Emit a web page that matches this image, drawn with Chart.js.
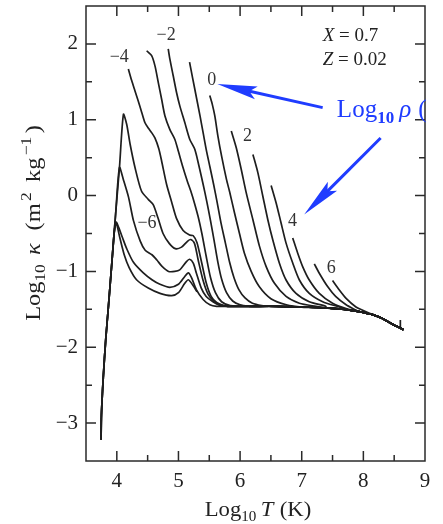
<!DOCTYPE html>
<html>
<head>
<meta charset="utf-8">
<script src="https://cdn.jsdelivr.net/npm/chart.js@4.4.0/dist/chart.umd.min.js"></script>
<style>
  html, body { margin: 0; padding: 0; background: #fff; }
</style>
</head>
<body>
<canvas id="chart" width="443" height="524"></canvas>
<script>
// Rosseland mean opacity, X = 0.7, Z = 0.02
// one pair of arrays per curve: log10 T and log10 kappa, curves labelled by log10 rho
const tM8 = [3.745, 3.75, 3.78, 3.82, 3.86, 3.92, 3.96, 3.99, 4.05, 4.12, 4.2, 4.32, 4.51, 4.70, 4.89, 5.0, 5.10, 5.16, 5.24, 5.30];
const kM8 = [-3.22, -2.9, -2.4, -1.9, -1.5, -0.88, -0.47, -0.36, -0.56, -0.78, -0.95, -1.11, -1.22, -1.29, -1.32, -1.28, -1.16, -1.11, -1.19, -1.27];

const tM7 = [3.745, 3.75, 3.78, 3.82, 3.86, 3.92, 3.96, 3.99, 4.03, 4.09, 4.16, 4.27, 4.43, 4.57, 4.70, 4.86, 5.0, 5.10, 5.16, 5.21, 5.29, 5.40, 5.51, 5.62];
const kM7 = [-3.22, -2.9, -2.4, -1.9, -1.5, -0.88, -0.47, -0.35, -0.42, -0.55, -0.70, -0.88, -1.02, -1.11, -1.17, -1.21, -1.17, -1.07, -1.02, -1.08, -1.24, -1.37, -1.44, -1.46];

const tM6 = [3.745, 3.75, 3.78, 3.82, 3.86, 3.92, 3.98, 4.043, 4.107, 4.19, 4.27, 4.38, 4.46, 4.57, 4.65, 4.73, 4.84, 4.94, 5.02, 5.13, 5.18, 5.24, 5.29, 5.37, 5.45, 5.56, 5.66];
const kM6 = [-3.22, -2.9, -2.4, -1.9, -1.5, -0.88, -0.25, 0.37, 0.21, -0.02, -0.33, -0.6, -0.72, -0.78, -0.85, -0.93, -1.0, -1.0, -0.98, -0.87, -0.84, -0.89, -1.02, -1.22, -1.33, -1.40, -1.44];

const tM5 = [3.745, 3.75, 3.78, 3.82, 3.86, 3.92, 3.98, 4.043, 4.107, 4.16, 4.215, 4.295, 4.40, 4.51, 4.59, 4.67, 4.75, 4.85, 4.95, 5.05, 5.15, 5.20, 5.26, 5.32, 5.40, 5.48, 5.58, 5.68];
const kM5 = [-3.22, -2.9, -2.4, -1.9, -1.5, -0.88, -0.25, 0.37, 1.07, 0.94, 0.68, 0.37, 0.06, -0.05, -0.12, -0.30, -0.50, -0.63, -0.70, -0.68, -0.60, -0.58, -0.63, -0.85, -1.12, -1.30, -1.40, -1.45];

const tM4 = [4.187, 4.24, 4.295, 4.35, 4.403, 4.457, 4.52, 4.565, 4.618, 4.68, 4.726, 4.807, 4.888, 4.968, 5.076, 5.18, 5.24, 5.30, 5.37, 5.45, 5.53, 5.62, 5.74];
const kM4 = [1.67, 1.52, 1.38, 1.24, 1.1, 0.96, 0.88, 0.83, 0.76, 0.62, 0.46, 0.15, -0.08, -0.30, -0.46, -0.52, -0.53, -0.62, -0.86, -1.15, -1.33, -1.41, -1.45];

const tM3 = [4.484, 4.565, 4.619, 4.673, 4.727, 4.781, 4.861, 4.942, 5.0, 5.07, 5.14, 5.2, 5.26, 5.32, 5.38, 5.45, 5.52, 5.6, 5.7, 5.84];
const kM3 = [1.91, 1.845, 1.71, 1.49, 1.27, 1.05, 0.87, 0.74, 0.58, 0.38, 0.2, 0.06, -0.1, -0.28, -0.5, -0.8, -1.08, -1.28, -1.4, -1.45];

const tM2 = [4.834, 4.861, 4.915, 4.969, 5.023, 5.104, 5.184, 5.265, 5.33, 5.40, 5.46, 5.52, 5.58, 5.64, 5.70, 5.78, 5.88, 6.0, 6.15];
const kM2 = [1.934, 1.80, 1.58, 1.36, 1.18, 0.96, 0.74, 0.61, 0.40, 0.15, -0.08, -0.33, -0.6, -0.88, -1.1, -1.28, -1.39, -1.44, -1.46];

const tM1 = [5.18, 5.23, 5.29, 5.35, 5.40, 5.45, 5.51, 5.57, 5.63, 5.69, 5.76, 5.83, 5.90, 5.98, 6.08, 6.2, 6.35, 6.5];
const kM1 = [1.76, 1.55, 1.3, 1.05, 0.83, 0.61, 0.38, 0.15, -0.1, -0.36, -0.62, -0.88, -1.08, -1.24, -1.35, -1.42, -1.45, -1.46];

const t0 = [5.508, 5.55, 5.59, 5.64, 5.70, 5.78, 5.83, 5.91, 5.99, 6.07, 6.18, 6.31, 6.5, 6.75];
const k0 = [1.32, 1.2, 1.05, 0.785, 0.52, 0.21, 0.05, -0.23, -0.5, -0.76, -1.0, -1.2, -1.36, -1.44];

const t1 = [5.857, 5.938, 6.019, 6.10, 6.208, 6.315, 6.423, 6.558, 6.746, 6.962, 7.23];
const k1 = [0.852, 0.631, 0.344, 0.035, -0.318, -0.67, -0.936, -1.157, -1.33, -1.42, -1.46];

const t2 = [6.208, 6.289, 6.369, 6.45, 6.53, 6.638, 6.746, 6.907, 7.123, 7.39];
const k2 = [0.543, 0.30, -0.009, -0.318, -0.583, -0.892, -1.113, -1.29, -1.40, -1.46];

const t3 = [6.504, 6.585, 6.665, 6.746, 6.854, 6.962, 7.123, 7.34, 7.61];
const k3 = [0.133, -0.097, -0.362, -0.627, -0.89, -1.113, -1.29, -1.40, -1.47];

const t4 = [6.854, 6.935, 7.015, 7.12, 7.285, 7.5, 7.72];
const k4 = [-0.56, -0.76, -0.936, -1.11, -1.29, -1.42, -1.49];

const t5 = [7.204, 7.285, 7.42, 7.55, 7.72, 7.88];
const k5 = [-0.90, -1.024, -1.20, -1.33, -1.44, -1.51];

const t6 = [7.5, 7.61, 7.72, 7.88, 7.98];
const k6 = [-1.12, -1.245, -1.355, -1.47, -1.51];

// electron scattering floor that every curve runs into
const plateauT = [5.8, 6.2, 6.6, 7.0, 7.4, 7.7, 7.93, 8.15, 8.31, 8.46, 8.65];
const plateauK = [-1.46, -1.46, -1.46, -1.47, -1.48, -1.50, -1.53, -1.57, -1.62, -1.69, -1.77];

// little hook where one curve stops
const hookT = [8.58, 8.6, 8.6];
const hookK = [-1.73, -1.74, -1.64];

const xTicks = [4, 5, 6, 7, 8, 9];
const yTicks = [-3, -2, -1, 0, 1, 2];
const xMinor = [4.5, 5.5, 6.5, 7.5, 8.5];
const yMinor = [-2.5, -1.5, -0.5, 0.5, 1.5];

const curveLabels = ['\u22124', '\u22122', '0', '2', '4', '6', '\u22126'];
const labelT = [4.04, 4.80, 5.54, 6.12, 6.85, 7.48, 4.49];
const labelK = [1.83, 2.11, 1.52, 0.78, -0.34, -0.96, -0.36];

const SERIF = "'Liberation Serif', 'DejaVu Serif', serif";
const INK = '#1e1e1e';
const BLUE = '#1f3cff';

const curves = [
    [tM8, kM8, false], [tM7, kM7, true], [tM6, kM6, true], [tM5, kM5, true],
    [tM4, kM4, true], [tM3, kM3, true], [tM2, kM2, true], [tM1, kM1, true],
    [t0, k0, true], [t1, k1, true], [t2, k2, true], [t3, k3, true],
    [t4, k4, true], [t5, k5, true], [t6, k6, true]
];

const toPoints = (ts, ks) => ts.map((v, i) => ({ x: v, y: ks[i] }));

const datasets = curves.map(([ts, ks, joins]) => {
    let pts = toPoints(ts, ks);
    if (joins) {
        const last = ts[ts.length - 1];
        pts = pts.concat(toPoints(plateauT, plateauK).filter(p => p.x > last));
    }
    return { data: pts, borderColor: INK, borderWidth: 1.7, pointRadius: 0, tension: 0.25, fill: false };
});
datasets.push({ data: toPoints(hookT, hookK), borderColor: INK, borderWidth: 1.7, pointRadius: 0, tension: 0, fill: false });

// draw a run of text pieces (sub/superscripts) side by side
function drawParts(ctx, parts, x, y, align) {
    let w = 0;
    parts.forEach(p => { ctx.font = p.font; p.w = ctx.measureText(p.t).width + (p.gap || 0); w += p.w; });
    let cx = align === 'center' ? x - w / 2 : x;
    parts.forEach(p => {
        ctx.font = p.font;
        ctx.fillText(p.t, cx, y + (p.dy || 0));
        cx += p.w;
    });
}

function arrow(ctx, x1, y1, x2, y2) {
    const ang = Math.atan2(y2 - y1, x2 - x1);
    const c = Math.cos(ang), s = Math.sin(ang);
    const hl = 40, hw = 6.5;
    const bx = x2 - hl * c, by = y2 - hl * s;
    ctx.beginPath();
    ctx.moveTo(x1, y1);
    ctx.lineTo(x2 - hl * 0.8 * c, y2 - hl * 0.8 * s);
    ctx.stroke();
    ctx.beginPath();
    ctx.moveTo(x2, y2);
    ctx.lineTo(bx + hw * s, by - hw * c);
    ctx.lineTo(x2 - hl * 0.82 * c, y2 - hl * 0.82 * s);
    ctx.lineTo(bx - hw * s, by + hw * c);
    ctx.closePath();
    ctx.fill();
}

const decorations = {
    id: 'decorations',
    afterDraw(chart) {
        const { ctx, chartArea: a, scales: { x, y } } = chart;
        ctx.save();
        // frame with inward ticks
        ctx.strokeStyle = '#2a2a2a';
        ctx.lineWidth = 1.5;
        ctx.strokeRect(a.left, a.top, a.right - a.left, a.bottom - a.top);
        const tickX = (v, len) => {
            const px = x.getPixelForValue(v);
            ctx.beginPath();
            ctx.moveTo(px, a.bottom); ctx.lineTo(px, a.bottom - len);
            ctx.moveTo(px, a.top); ctx.lineTo(px, a.top + len);
            ctx.stroke();
        };
        const tickY = (v, len) => {
            const py = y.getPixelForValue(v);
            ctx.beginPath();
            ctx.moveTo(a.left, py); ctx.lineTo(a.left + len, py);
            ctx.moveTo(a.right, py); ctx.lineTo(a.right - len, py);
            ctx.stroke();
        };
        xTicks.filter(v => v < 9).forEach(v => tickX(v, 10));
        xMinor.forEach(v => tickX(v, 6));
        yTicks.forEach(v => tickY(v, 10));
        yMinor.forEach(v => tickY(v, 6));

        ctx.fillStyle = '#222';
        ctx.textAlign = 'left';
        ctx.textBaseline = 'alphabetic';

        // x title, slightly widened to mimic the original's font
        ctx.save();
        ctx.translate(258, 516);
        ctx.scale(1.08, 1);
        drawParts(ctx, [
            { t: 'Log', font: `21px ${SERIF}` },
            { t: '10', font: `14px ${SERIF}`, dy: 5, gap: 4 },
            { t: 'T', font: `italic 21px ${SERIF}`, gap: 6 },
            { t: '(K)', font: `21px ${SERIF}` }
        ], 0, 0, 'center');
        ctx.restore();

        // y title, rotated
        ctx.save();
        ctx.translate(40, 223);
        ctx.rotate(-Math.PI / 2);
        ctx.scale(1.16, 1);
        drawParts(ctx, [
            { t: 'Log', font: `21px ${SERIF}` },
            { t: '10', font: `15px ${SERIF}`, dy: 5, gap: 8 },
            { t: '\u03ba', font: `italic 21px ${SERIF}`, gap: 11 },
            { t: '(m', font: `21px ${SERIF}`, gap: 2 },
            { t: '2', font: `15px ${SERIF}`, dy: -9, gap: 9 },
            { t: 'kg', font: `21px ${SERIF}`, gap: 2 },
            { t: '\u22121', font: `15px ${SERIF}`, dy: -9, gap: 3 },
            { t: ')', font: `21px ${SERIF}` }
        ], 0, 0, 'center');
        ctx.restore();

        // composition
        drawParts(ctx, [
            { t: 'X', font: `italic 19px ${SERIF}` },
            { t: ' = 0.7', font: `19px ${SERIF}` }
        ], x.getPixelForValue(7.34), y.getPixelForValue(2.04), 'left');
        drawParts(ctx, [
            { t: 'Z', font: `italic 19px ${SERIF}` },
            { t: ' = 0.02', font: `19px ${SERIF}` }
        ], x.getPixelForValue(7.34), y.getPixelForValue(1.72), 'left');

        // curve labels
        ctx.fillStyle = '#333';
        ctx.font = `18px ${SERIF}`;
        ctx.textAlign = 'center';
        ctx.textBaseline = 'middle';
        curveLabels.forEach((lab, i) => {
            ctx.fillText(lab, x.getPixelForValue(labelT[i]), y.getPixelForValue(labelK[i]));
        });

        // blue density note with arrows
        ctx.textAlign = 'left';
        ctx.textBaseline = 'alphabetic';
        ctx.fillStyle = BLUE;
        ctx.strokeStyle = BLUE;
        ctx.lineWidth = 3;
        arrow(ctx, x.getPixelForValue(7.34), y.getPixelForValue(1.16), x.getPixelForValue(5.63), y.getPixelForValue(1.47));
        arrow(ctx, x.getPixelForValue(8.28), y.getPixelForValue(0.76), x.getPixelForValue(7.04), y.getPixelForValue(-0.25));
        ctx.save();
        ctx.beginPath();
        ctx.rect(0, 0, 430, chart.height);
        ctx.clip();
        drawParts(ctx, [
            { t: 'Log', font: `25px ${SERIF}` },
            { t: '10', font: `bold 17px ${SERIF}`, dy: 6, gap: 5 },
            { t: '\u03c1', font: `italic 25px ${SERIF}`, gap: 7 },
            { t: '(', font: `25px ${SERIF}` }
        ], x.getPixelForValue(7.57), y.getPixelForValue(1.03), 'left');
        ctx.restore();
        ctx.restore();
    }
};

new Chart(document.getElementById('chart'), {
    type: 'line',
    data: { datasets },
    options: {
        responsive: false,
        animation: false,
        layout: { padding: { left: 0, right: 18, top: 6, bottom: 0 } },
        plugins: { legend: { display: false }, tooltip: { enabled: false } },
        scales: {
            x: {
                type: 'linear', min: 3.5, max: 9,
                afterBuildTicks: s => { s.ticks = xTicks.map(v => ({ value: v })); },
                afterFit: s => { s.height = 63; s.paddingLeft = 0; s.paddingRight = 0; },
                grid: { display: false, drawTicks: false },
                border: { display: false },
                ticks: { color: '#222', font: { family: SERIF, size: 21 }, padding: 8, maxRotation: 0, autoSkip: false }
            },
            y: {
                type: 'linear', min: -3.5, max: 2.5,
                afterBuildTicks: s => { s.ticks = yTicks.map(v => ({ value: v })); },
                afterFit: s => { s.width = 86; s.paddingTop = 0; s.paddingBottom = 0; },
                grid: { display: false, drawTicks: false },
                border: { display: false },
                ticks: {
                    color: '#222', font: { family: SERIF, size: 21 }, padding: 8,
                    callback: v => v < 0 ? '\u2212' + Math.abs(v) : String(v)
                }
            }
        }
    },
    plugins: [decorations]
});
</script>
</body>
</html>
